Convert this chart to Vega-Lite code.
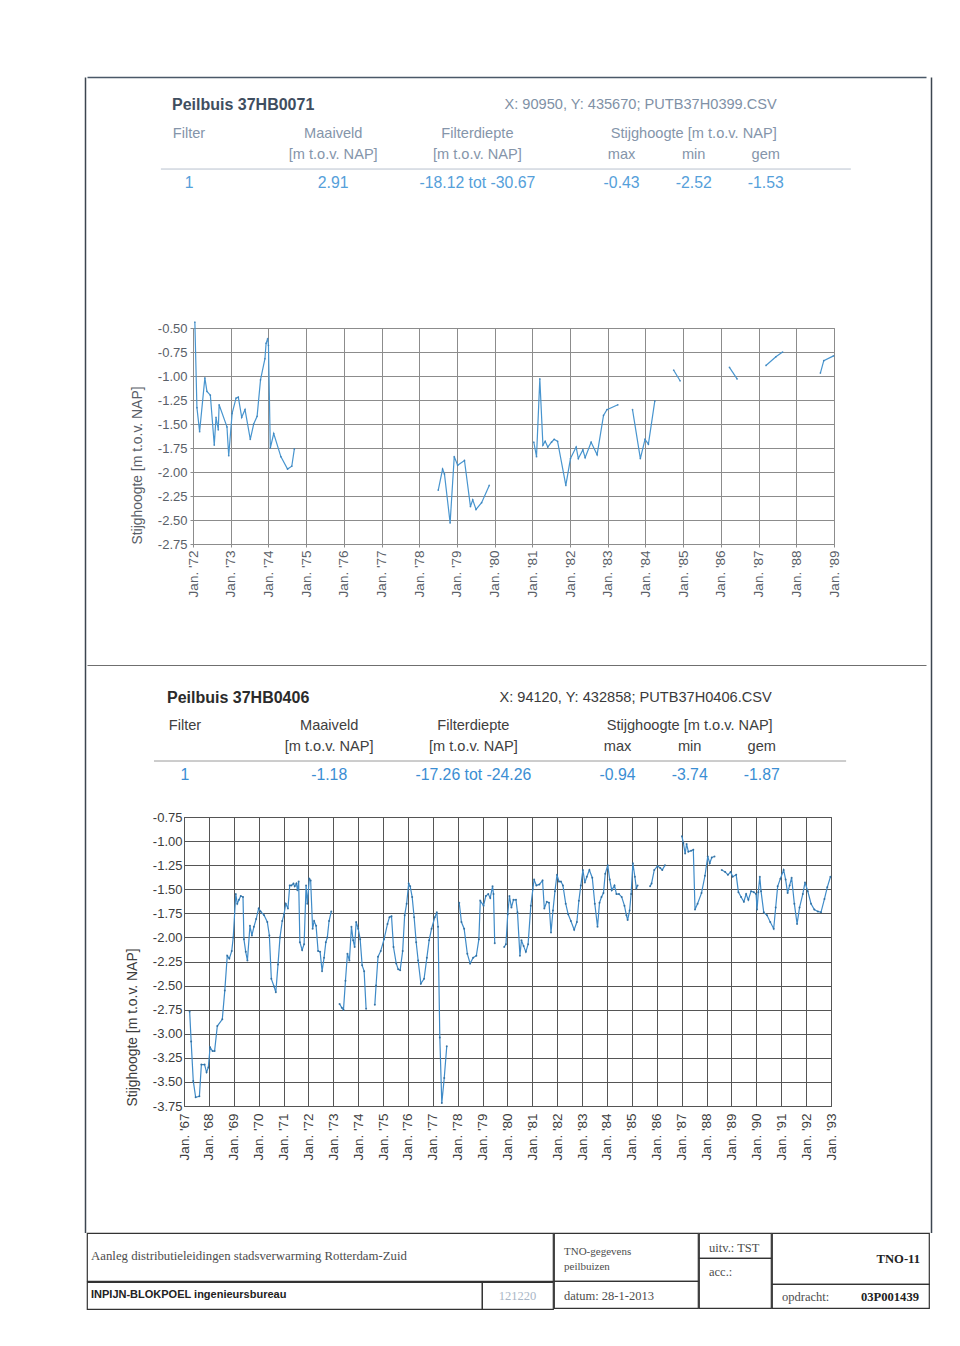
{
  "$schema": "https://vega.github.io/schema/vega-lite/v6.json",
  "background": "white",
  "padding": {"left": 85, "top": 77, "right": 10, "bottom": 10},
  "spacing": 0,
  "datasets": {
    "h1": [
      {"line": 0, "col": 0, "role": "title", "text": "Peilbuis 37HB0071"},
      {"line": 0, "col": 8, "role": "coord", "text": "X: 90950, Y: 435670;  PUTB37H0399.CSV"},
      {"line": 4, "col": 0, "role": "label", "text": "Filter"},
      {"line": 4, "col": 2, "role": "label", "text": "Maaiveld"},
      {"line": 7, "col": 2, "role": "label", "text": "[m t.o.v. NAP]"},
      {"line": 4, "col": 4, "role": "label", "text": "Filterdiepte"},
      {"line": 7, "col": 4, "role": "label", "text": "[m t.o.v. NAP]"},
      {"line": 4, "col": 7, "role": "label", "text": "Stijghoogte [m t.o.v. NAP]"},
      {"line": 7, "col": 6, "role": "label", "text": "max"},
      {"line": 7, "col": 7, "role": "label", "text": "min"},
      {"line": 7, "col": 8, "role": "label", "text": "gem"},
      {"line": 11, "col": 0, "role": "value", "text": "1"},
      {"line": 11, "col": 2, "role": "value", "text": "2.91"},
      {"line": 11, "col": 4, "role": "value", "text": "-18.12 tot -30.67"},
      {"line": 11, "col": 6, "role": "value", "text": "-0.43"},
      {"line": 11, "col": 7, "role": "value", "text": "-2.52"},
      {"line": 11, "col": 8, "role": "value", "text": "-1.53"}
    ],
    "h2": [
      {"line": 0, "col": 0, "role": "title", "text": "Peilbuis 37HB0406"},
      {"line": 0, "col": 8, "role": "coord", "text": "X: 94120, Y: 432858;  PUTB37H0406.CSV"},
      {"line": 4, "col": 0, "role": "label", "text": "Filter"},
      {"line": 4, "col": 2, "role": "label", "text": "Maaiveld"},
      {"line": 7, "col": 2, "role": "label", "text": "[m t.o.v. NAP]"},
      {"line": 4, "col": 4, "role": "label", "text": "Filterdiepte"},
      {"line": 7, "col": 4, "role": "label", "text": "[m t.o.v. NAP]"},
      {"line": 4, "col": 7, "role": "label", "text": "Stijghoogte [m t.o.v. NAP]"},
      {"line": 7, "col": 6, "role": "label", "text": "max"},
      {"line": 7, "col": 7, "role": "label", "text": "min"},
      {"line": 7, "col": 8, "role": "label", "text": "gem"},
      {"line": 11, "col": 0, "role": "value", "text": "1"},
      {"line": 11, "col": 2, "role": "value", "text": "-1.18"},
      {"line": 11, "col": 4, "role": "value", "text": "-17.26 tot -24.26"},
      {"line": 11, "col": 6, "role": "value", "text": "-0.94"},
      {"line": 11, "col": 7, "role": "value", "text": "-3.74"},
      {"line": 11, "col": 8, "role": "value", "text": "-1.87"}
    ],
    "c1": [
      {"s": 1, "d": "1972-01-19", "v": -0.44}, {"s": 1, "d": "1972-02-08", "v": -1.33}, {"s": 1, "d": "1972-03-05", "v": -1.58},
      {"s": 1, "d": "1972-04-25", "v": -1.02}, {"s": 1, "d": "1972-05-15", "v": -1.16}, {"s": 1, "d": "1972-06-17", "v": -1.2},
      {"s": 1, "d": "1972-07-25", "v": -1.72}, {"s": 1, "d": "1972-08-11", "v": -1.43}, {"s": 1, "d": "1972-09-02", "v": -1.56},
      {"s": 1, "d": "1972-09-10", "v": -1.3}, {"s": 1, "d": "1972-11-25", "v": -1.53}, {"s": 1, "d": "1972-12-12", "v": -1.83},
      {"s": 1, "d": "1973-01-14", "v": -1.39}, {"s": 1, "d": "1973-02-21", "v": -1.23}, {"s": 1, "d": "1973-03-15", "v": -1.22},
      {"s": 1, "d": "1973-04-17", "v": -1.43}, {"s": 1, "d": "1973-05-19", "v": -1.35}, {"s": 1, "d": "1973-07-09", "v": -1.66},
      {"s": 1, "d": "1973-08-11", "v": -1.5}, {"s": 1, "d": "1973-09-13", "v": -1.42}, {"s": 1, "d": "1973-10-16", "v": -1.04},
      {"s": 1, "d": "1973-11-28", "v": -0.82}, {"s": 1, "d": "1973-12-09", "v": -0.66}, {"s": 1, "d": "1973-12-24", "v": -0.61},
      {"s": 1, "d": "1974-01-01", "v": -0.68}, {"s": 1, "d": "1974-01-19", "v": -1.75}, {"s": 1, "d": "1974-02-21", "v": -1.6},
      {"s": 1, "d": "1974-05-01", "v": -1.84}, {"s": 1, "d": "1974-07-05", "v": -1.97}, {"s": 1, "d": "1974-08-15", "v": -1.94},
      {"s": 1, "d": "1974-09-09", "v": -1.76},
      {"s": 2, "d": "1978-07-04", "v": -2.19}, {"s": 2, "d": "1978-08-15", "v": -1.97}, {"s": 2, "d": "1978-09-02", "v": -2.02},
      {"s": 2, "d": "1978-10-27", "v": -2.53}, {"s": 2, "d": "1978-12-06", "v": -1.84}, {"s": 2, "d": "1979-01-08", "v": -1.93},
      {"s": 2, "d": "1979-03-15", "v": -1.88}, {"s": 2, "d": "1979-05-12", "v": -2.36}, {"s": 2, "d": "1979-06-03", "v": -2.29},
      {"s": 2, "d": "1979-07-05", "v": -2.39}, {"s": 2, "d": "1979-08-28", "v": -2.32}, {"s": 2, "d": "1979-11-10", "v": -2.14},
      {"s": 3, "d": "1981-01-15", "v": -1.69}, {"s": 3, "d": "1981-02-10", "v": -1.84}, {"s": 3, "d": "1981-03-14", "v": -1.03},
      {"s": 3, "d": "1981-04-13", "v": -1.72}, {"s": 3, "d": "1981-05-05", "v": -1.68}, {"s": 3, "d": "1981-05-30", "v": -1.74},
      {"s": 3, "d": "1981-07-05", "v": -1.69}, {"s": 3, "d": "1981-07-31", "v": -1.66}, {"s": 3, "d": "1981-09-02", "v": -1.68},
      {"s": 3, "d": "1981-11-21", "v": -2.14}, {"s": 3, "d": "1982-01-05", "v": -1.86}, {"s": 3, "d": "1982-03-01", "v": -1.74},
      {"s": 3, "d": "1982-03-22", "v": -1.86}, {"s": 3, "d": "1982-05-05", "v": -1.77}, {"s": 3, "d": "1982-05-27", "v": -1.85},
      {"s": 3, "d": "1982-07-24", "v": -1.69}, {"s": 3, "d": "1982-09-20", "v": -1.82}, {"s": 3, "d": "1982-11-21", "v": -1.41},
      {"s": 3, "d": "1982-12-24", "v": -1.35}, {"s": 3, "d": "1983-04-09", "v": -1.3},
      {"s": 4, "d": "1983-08-29", "v": -1.35}, {"s": 4, "d": "1983-11-13", "v": -1.86}, {"s": 4, "d": "1983-12-28", "v": -1.66},
      {"s": 4, "d": "1984-01-30", "v": -1.71}, {"s": 4, "d": "1984-04-01", "v": -1.26},
      {"s": 5, "d": "1984-10-01", "v": -0.94}, {"s": 5, "d": "1984-12-02", "v": -1.05},
      {"s": 6, "d": "1986-03-25", "v": -0.91}, {"s": 6, "d": "1986-06-07", "v": -1.03},
      {"s": 7, "d": "1987-03-14", "v": -0.89}, {"s": 7, "d": "1987-06-18", "v": -0.8}, {"s": 7, "d": "1987-08-22", "v": -0.75},
      {"s": 8, "d": "1988-08-22", "v": -0.97}, {"s": 8, "d": "1988-09-24", "v": -0.84}, {"s": 8, "d": "1988-12-28", "v": -0.79}
    ],
    "c2": [
      {"s": 1, "d": "1967-03-25", "v": -2.77}, {"s": 1, "d": "1967-04-16", "v": -3.08}, {"s": 1, "d": "1967-05-17", "v": -3.49},
      {"s": 1, "d": "1967-06-21", "v": -3.66}, {"s": 1, "d": "1967-08-15", "v": -3.65}, {"s": 1, "d": "1967-09-13", "v": -3.32},
      {"s": 1, "d": "1967-10-30", "v": -3.32}, {"s": 1, "d": "1967-11-28", "v": -3.4}, {"s": 1, "d": "1967-12-24", "v": -3.35},
      {"s": 1, "d": "1968-01-19", "v": -3.14}, {"s": 1, "d": "1968-02-24", "v": -3.18}, {"s": 1, "d": "1968-03-25", "v": -3.18},
      {"s": 1, "d": "1968-05-04", "v": -2.92}, {"s": 1, "d": "1968-07-16", "v": -2.85}, {"s": 1, "d": "1968-08-22", "v": -2.55},
      {"s": 1, "d": "1968-09-27", "v": -2.19}, {"s": 1, "d": "1968-10-27", "v": -2.22}, {"s": 1, "d": "1968-12-02", "v": -2.14},
      {"s": 1, "d": "1968-12-24", "v": -2.0}, {"s": 1, "d": "1969-01-30", "v": -1.55}, {"s": 1, "d": "1969-02-21", "v": -1.65},
      {"s": 1, "d": "1969-03-18", "v": -1.61}, {"s": 1, "d": "1969-04-13", "v": -1.57}, {"s": 1, "d": "1969-05-16", "v": -1.58},
      {"s": 1, "d": "1969-05-30", "v": -2.02}, {"s": 1, "d": "1969-06-25", "v": -2.15}, {"s": 1, "d": "1969-07-20", "v": -2.24},
      {"s": 1, "d": "1969-08-26", "v": -1.88}, {"s": 1, "d": "1969-09-24", "v": -1.98}, {"s": 1, "d": "1969-10-23", "v": -1.89},
      {"s": 1, "d": "1969-11-25", "v": -1.81}, {"s": 1, "d": "1970-01-01", "v": -1.7}, {"s": 1, "d": "1970-01-30", "v": -1.73},
      {"s": 1, "d": "1970-03-22", "v": -1.77}, {"s": 1, "d": "1970-05-08", "v": -1.84}, {"s": 1, "d": "1970-06-07", "v": -1.98},
      {"s": 1, "d": "1970-07-06", "v": -2.43}, {"s": 1, "d": "1970-08-15", "v": -2.51}, {"s": 1, "d": "1970-09-10", "v": -2.57},
      {"s": 1, "d": "1970-10-12", "v": -2.28}, {"s": 1, "d": "1970-11-10", "v": -2.0}, {"s": 1, "d": "1970-12-13", "v": -1.83},
      {"s": 1, "d": "1971-01-08", "v": -1.76}, {"s": 1, "d": "1971-02-03", "v": -1.65}, {"s": 1, "d": "1971-03-07", "v": -1.7},
      {"s": 1, "d": "1971-04-02", "v": -1.46}, {"s": 1, "d": "1971-04-27", "v": -1.46}, {"s": 1, "d": "1971-05-27", "v": -1.44},
      {"s": 1, "d": "1971-06-14", "v": -1.47}, {"s": 1, "d": "1971-07-09", "v": -1.44}, {"s": 1, "d": "1971-07-24", "v": -1.51},
      {"s": 1, "d": "1971-08-11", "v": -1.42}, {"s": 1, "d": "1971-08-29", "v": -2.05}, {"s": 1, "d": "1971-10-01", "v": -2.13},
      {"s": 1, "d": "1971-10-30", "v": -2.07}, {"s": 1, "d": "1971-11-28", "v": -1.46}, {"s": 1, "d": "1971-12-16", "v": -1.65},
      {"s": 1, "d": "1972-01-15", "v": -1.39}, {"s": 1, "d": "1972-02-03", "v": -1.41}, {"s": 1, "d": "1972-03-03", "v": -1.91},
      {"s": 1, "d": "1972-03-25", "v": -1.83}, {"s": 1, "d": "1972-04-23", "v": -1.88}, {"s": 1, "d": "1972-05-22", "v": -2.14},
      {"s": 1, "d": "1972-06-21", "v": -2.15}, {"s": 1, "d": "1972-07-20", "v": -2.35}, {"s": 1, "d": "1972-08-18", "v": -2.21},
      {"s": 1, "d": "1972-09-13", "v": -2.05}, {"s": 1, "d": "1972-10-05", "v": -2.0}, {"s": 1, "d": "1972-10-30", "v": -1.83},
      {"s": 1, "d": "1972-12-02", "v": -1.73},
      {"s": 2, "d": "1973-04-02", "v": -2.69}, {"s": 2, "d": "1973-05-05", "v": -2.73}, {"s": 2, "d": "1973-05-30", "v": -2.75},
      {"s": 2, "d": "1973-06-28", "v": -2.45}, {"s": 2, "d": "1973-07-27", "v": -2.17}, {"s": 2, "d": "1973-08-25", "v": -2.24},
      {"s": 2, "d": "1973-09-24", "v": -1.89}, {"s": 2, "d": "1973-10-19", "v": -2.03}, {"s": 2, "d": "1973-11-10", "v": -2.1},
      {"s": 2, "d": "1973-12-02", "v": -1.84}, {"s": 2, "d": "1974-01-01", "v": -1.91}, {"s": 2, "d": "1974-01-30", "v": -2.02},
      {"s": 2, "d": "1974-02-28", "v": -2.29}, {"s": 2, "d": "1974-03-29", "v": -2.35}, {"s": 2, "d": "1974-04-27", "v": -2.74},
      {"s": 3, "d": "1974-09-02", "v": -2.7}, {"s": 3, "d": "1974-09-20", "v": -2.5}, {"s": 3, "d": "1974-10-19", "v": -2.2},
      {"s": 3, "d": "1974-11-28", "v": -2.14}, {"s": 3, "d": "1975-01-15", "v": -2.02}, {"s": 3, "d": "1975-03-07", "v": -1.86},
      {"s": 3, "d": "1975-04-05", "v": -1.79}, {"s": 3, "d": "1975-05-05", "v": -1.78}, {"s": 3, "d": "1975-06-03", "v": -2.1},
      {"s": 3, "d": "1975-07-13", "v": -2.27}, {"s": 3, "d": "1975-08-11", "v": -2.33}, {"s": 3, "d": "1975-09-09", "v": -2.34},
      {"s": 3, "d": "1975-10-16", "v": -2.14}, {"s": 3, "d": "1975-11-14", "v": -1.77}, {"s": 3, "d": "1975-12-13", "v": -1.65},
      {"s": 3, "d": "1976-01-12", "v": -1.44}, {"s": 3, "d": "1976-02-03", "v": -1.47}, {"s": 3, "d": "1976-03-03", "v": -1.58},
      {"s": 3, "d": "1976-04-01", "v": -1.79}, {"s": 3, "d": "1976-05-01", "v": -2.05}, {"s": 3, "d": "1976-05-30", "v": -2.24},
      {"s": 3, "d": "1976-07-09", "v": -2.48}, {"s": 3, "d": "1976-08-25", "v": -2.43}, {"s": 3, "d": "1976-10-05", "v": -2.21},
      {"s": 3, "d": "1976-11-07", "v": -2.03}, {"s": 3, "d": "1976-12-13", "v": -1.91}, {"s": 3, "d": "1977-01-30", "v": -1.79},
      {"s": 3, "d": "1977-02-28", "v": -1.74}, {"s": 3, "d": "1977-03-18", "v": -1.89}, {"s": 3, "d": "1977-04-13", "v": -3.04},
      {"s": 3, "d": "1977-05-12", "v": -3.72}, {"s": 3, "d": "1977-06-17", "v": -3.46}, {"s": 3, "d": "1977-07-24", "v": -3.13},
      {"s": 4, "d": "1978-01-23", "v": -1.64}, {"s": 4, "d": "1978-02-24", "v": -1.84}, {"s": 4, "d": "1978-04-05", "v": -1.91},
      {"s": 4, "d": "1978-05-22", "v": -2.17}, {"s": 4, "d": "1978-07-02", "v": -2.27}, {"s": 4, "d": "1978-08-15", "v": -2.21},
      {"s": 4, "d": "1978-10-01", "v": -2.19}, {"s": 4, "d": "1978-11-07", "v": -2.02}, {"s": 4, "d": "1978-11-28", "v": -1.62},
      {"s": 4, "d": "1979-01-15", "v": -1.67}, {"s": 4, "d": "1979-02-17", "v": -1.57}, {"s": 4, "d": "1979-03-25", "v": -1.55},
      {"s": 4, "d": "1979-04-23", "v": -1.59}, {"s": 4, "d": "1979-05-27", "v": -1.47}, {"s": 4, "d": "1979-06-10", "v": -1.55},
      {"s": 4, "d": "1979-06-28", "v": -2.06},
      {"s": 5, "d": "1979-11-14", "v": -2.1}, {"s": 5, "d": "1979-12-10", "v": -2.07}, {"s": 5, "d": "1980-01-05", "v": -1.76},
      {"s": 5, "d": "1980-01-30", "v": -1.57}, {"s": 5, "d": "1980-02-28", "v": -1.69}, {"s": 5, "d": "1980-03-29", "v": -1.61},
      {"s": 5, "d": "1980-05-05", "v": -1.61}, {"s": 5, "d": "1980-05-27", "v": -1.74}, {"s": 5, "d": "1980-07-02", "v": -2.19},
      {"s": 5, "d": "1980-07-24", "v": -2.03}, {"s": 5, "d": "1980-08-25", "v": -2.09}, {"s": 5, "d": "1980-09-27", "v": -2.15},
      {"s": 5, "d": "1980-10-30", "v": -2.07}, {"s": 5, "d": "1980-12-09", "v": -1.67}, {"s": 5, "d": "1981-01-08", "v": -1.5},
      {"s": 5, "d": "1981-01-26", "v": -1.4}, {"s": 5, "d": "1981-02-28", "v": -1.46}, {"s": 5, "d": "1981-04-13", "v": -1.45},
      {"s": 5, "d": "1981-05-30", "v": -1.41}, {"s": 5, "d": "1981-06-25", "v": -1.7}, {"s": 5, "d": "1981-07-31", "v": -1.63},
      {"s": 5, "d": "1981-09-02", "v": -1.64}, {"s": 5, "d": "1981-10-01", "v": -1.95}, {"s": 5, "d": "1981-10-30", "v": -1.72},
      {"s": 5, "d": "1981-11-28", "v": -1.52}, {"s": 5, "d": "1981-12-28", "v": -1.35}, {"s": 5, "d": "1982-01-26", "v": -1.42},
      {"s": 5, "d": "1982-02-24", "v": -1.42}, {"s": 5, "d": "1982-03-25", "v": -1.46}, {"s": 5, "d": "1982-05-05", "v": -1.65},
      {"s": 5, "d": "1982-06-10", "v": -1.76}, {"s": 5, "d": "1982-07-20", "v": -1.83}, {"s": 5, "d": "1982-09-06", "v": -1.92},
      {"s": 5, "d": "1982-10-16", "v": -1.84}, {"s": 5, "d": "1982-11-14", "v": -1.62}, {"s": 5, "d": "1982-12-13", "v": -1.46},
      {"s": 5, "d": "1983-01-12", "v": -1.3}, {"s": 5, "d": "1983-02-10", "v": -1.43}, {"s": 5, "d": "1983-03-11", "v": -1.37},
      {"s": 5, "d": "1983-04-17", "v": -1.3}, {"s": 5, "d": "1983-05-30", "v": -1.38}, {"s": 5, "d": "1983-07-06", "v": -1.65},
      {"s": 5, "d": "1983-08-15", "v": -1.89}, {"s": 5, "d": "1983-09-13", "v": -1.64}, {"s": 5, "d": "1983-10-12", "v": -1.58},
      {"s": 5, "d": "1983-11-10", "v": -1.54}, {"s": 5, "d": "1983-12-06", "v": -1.34}, {"s": 5, "d": "1984-01-12", "v": -1.25},
      {"s": 5, "d": "1984-02-10", "v": -1.4}, {"s": 5, "d": "1984-03-11", "v": -1.51}, {"s": 5, "d": "1984-04-20", "v": -1.46},
      {"s": 5, "d": "1984-05-19", "v": -1.55}, {"s": 5, "d": "1984-06-25", "v": -1.55}, {"s": 5, "d": "1984-08-04", "v": -1.58},
      {"s": 5, "d": "1984-09-13", "v": -1.67}, {"s": 5, "d": "1984-10-12", "v": -1.77}, {"s": 5, "d": "1984-10-30", "v": -1.82},
      {"s": 5, "d": "1984-11-28", "v": -1.72}, {"s": 5, "d": "1984-12-20", "v": -1.55}, {"s": 5, "d": "1985-01-15", "v": -1.23},
      {"s": 5, "d": "1985-02-13", "v": -1.37}, {"s": 5, "d": "1985-03-07", "v": -1.49}, {"s": 5, "d": "1985-03-25", "v": -1.46},
      {"s": 6, "d": "1985-09-24", "v": -1.47}, {"s": 6, "d": "1985-10-16", "v": -1.44}, {"s": 6, "d": "1985-11-25", "v": -1.3},
      {"s": 6, "d": "1986-01-12", "v": -1.26}, {"s": 6, "d": "1986-02-21", "v": -1.28}, {"s": 6, "d": "1986-03-22", "v": -1.3},
      {"s": 6, "d": "1986-05-01", "v": -1.25},
      {"s": 7, "d": "1987-01-05", "v": -0.95}, {"s": 7, "d": "1987-01-26", "v": -1.02}, {"s": 7, "d": "1987-02-21", "v": -1.13},
      {"s": 7, "d": "1987-03-14", "v": -1.03}, {"s": 7, "d": "1987-04-09", "v": -1.11}, {"s": 7, "d": "1987-05-19", "v": -1.1},
      {"s": 7, "d": "1987-06-21", "v": -1.09}, {"s": 7, "d": "1987-07-16", "v": -1.71}, {"s": 7, "d": "1987-08-22", "v": -1.65},
      {"s": 7, "d": "1987-10-19", "v": -1.54}, {"s": 7, "d": "1987-12-09", "v": -1.36}, {"s": 7, "d": "1988-01-19", "v": -1.16},
      {"s": 7, "d": "1988-02-17", "v": -1.23}, {"s": 7, "d": "1988-03-18", "v": -1.17}, {"s": 7, "d": "1988-04-27", "v": -1.16},
      {"s": 8, "d": "1988-08-11", "v": -1.3}, {"s": 8, "d": "1988-10-01", "v": -1.32}, {"s": 8, "d": "1988-11-10", "v": -1.35},
      {"s": 8, "d": "1988-12-20", "v": -1.32}, {"s": 8, "d": "1989-01-19", "v": -1.37}, {"s": 8, "d": "1989-03-11", "v": -1.35},
      {"s": 8, "d": "1989-04-13", "v": -1.53}, {"s": 8, "d": "1989-05-22", "v": -1.58}, {"s": 8, "d": "1989-07-02", "v": -1.63},
      {"s": 8, "d": "1989-08-04", "v": -1.55}, {"s": 8, "d": "1989-09-06", "v": -1.61}, {"s": 8, "d": "1989-10-16", "v": -1.52},
      {"s": 8, "d": "1989-11-25", "v": -1.53}, {"s": 8, "d": "1989-12-28", "v": -1.55}, {"s": 8, "d": "1990-01-12", "v": -1.71},
      {"s": 8, "d": "1990-01-30", "v": -1.53}, {"s": 8, "d": "1990-02-21", "v": -1.37}, {"s": 8, "d": "1990-03-11", "v": -1.52},
      {"s": 8, "d": "1990-04-20", "v": -1.74}, {"s": 8, "d": "1990-06-07", "v": -1.77}, {"s": 8, "d": "1990-07-24", "v": -1.84},
      {"s": 8, "d": "1990-09-13", "v": -1.91}, {"s": 8, "d": "1990-10-12", "v": -1.69}, {"s": 8, "d": "1990-11-10", "v": -1.47},
      {"s": 8, "d": "1990-12-20", "v": -1.39}, {"s": 8, "d": "1991-02-06", "v": -1.3}, {"s": 8, "d": "1991-03-07", "v": -1.4},
      {"s": 8, "d": "1991-04-05", "v": -1.54}, {"s": 8, "d": "1991-05-05", "v": -1.46}, {"s": 8, "d": "1991-06-03", "v": -1.38},
      {"s": 8, "d": "1991-07-13", "v": -1.65}, {"s": 8, "d": "1991-08-22", "v": -1.86}, {"s": 8, "d": "1991-09-27", "v": -1.69},
      {"s": 8, "d": "1991-11-14", "v": -1.55}, {"s": 8, "d": "1991-12-16", "v": -1.43}, {"s": 8, "d": "1992-01-26", "v": -1.52},
      {"s": 8, "d": "1992-03-14", "v": -1.65}, {"s": 8, "d": "1992-05-01", "v": -1.71}, {"s": 8, "d": "1992-06-21", "v": -1.73},
      {"s": 8, "d": "1992-08-07", "v": -1.74}, {"s": 8, "d": "1992-09-27", "v": -1.6}, {"s": 8, "d": "1992-11-07", "v": -1.48},
      {"s": 8, "d": "1992-12-24", "v": -1.37}
    ]
  },
  "hconcat": [
    {
      "width": 1, "height": 1155.5, "view": {"stroke": null},
      "data": {"values": []},
      "mark": "text",
      "encoding": {"y": {"field": "v", "type": "quantitative", "scale": {"domain": [0, 1]},
        "axis": {"orient": "left", "title": null, "labels": false, "ticks": false, "grid": false, "domain": true, "domainColor": "#3c4650", "domainWidth": 1.5}}}
    },
    {
      "spacing": 0,
      "vconcat": [
        {
          "width": 839, "height": 242, "view": {"stroke": null, "fill": "white"},
          "data": {"name": "h1"},
          "encoding": {
            "x": {"field": "col", "type": "quantitative", "scale": {"domain": [-1.415, 10.222], "nice": false, "zero": false},
              "axis": {"orient": "top", "title": null, "labels": false, "ticks": false, "grid": false, "domain": true, "domainColor": "#4a5868", "domainWidth": 1.5}},
            "y": {"field": "line", "type": "quantitative", "scale": {"domain": [-3.98, 30.15], "reverse": true, "nice": false, "zero": false}, "axis": null}
          },
          "layer": [
            {"transform": [{"filter": "datum.role === 'title'"}], "mark": {"type": "rule", "color": "#b8c2ce", "strokeWidth": 1},
              "encoding": {
                "x": {"datum": -0.39, "type": "quantitative", "axis": {"orient": "top", "title": null, "labels": false, "ticks": false, "grid": false, "domain": true, "domainColor": "#4a5868", "domainWidth": 1.5}},
                "x2": {"datum": 9.18}, "y": {"datum": 9, "type": "quantitative", "axis": null}}},
            {"transform": [{"filter": "datum.role === 'title'"}], "mark": {"type": "text", "align": "left", "dx": -17, "fontSize": 16, "fontWeight": "bold", "color": "#3f4e60"}, "encoding": {"text": {"field": "text"}}},
            {"transform": [{"filter": "datum.role === 'coord'"}], "mark": {"type": "text", "align": "right", "dx": 11, "fontSize": 14.6, "color": "#7f91a6"}, "encoding": {"text": {"field": "text"}}},
            {"transform": [{"filter": "datum.role === 'label'"}], "mark": {"type": "text", "align": "center", "fontSize": 14.6, "color": "#8595aa"}, "encoding": {"text": {"field": "text"}}},
            {"transform": [{"filter": "datum.role === 'value'"}], "mark": {"type": "text", "align": "center", "fontSize": 15.8, "color": "#55a0da"}, "encoding": {"text": {"field": "text"}}}
          ]
        },
        {
          "spacing": 0, "bounds": "flush",
          "hconcat": [
            {"width": 106, "height": 336.5, "view": {"stroke": null, "fill": "white"}, "data": {"values": []}, "mark": "text"},
            {
              "width": 641, "height": 216, "view": {"stroke": "#8c8c8c"},
              "data": {"name": "c1"},
              "encoding": {
                "x": {"field": "d", "type": "temporal",
                  "scale": {"domain": [{"year": 1972, "month": 1, "date": 1}, {"year": 1989, "month": 1, "date": 1}], "nice": false},
                  "axis": {"title": null, "format": "%b. '%y", "tickCount": {"interval": "year", "step": 1}, "labelAngle": -90,
                    "labelFontSize": 13.5, "labelColor": "#5a6068", "labelPadding": 3, "ticks": true, "tickSize": 3, "tickColor": "#8c8c8c",
                    "grid": true, "gridColor": "#8c8c8c", "gridOpacity": 1, "domain": false, "labelOverlap": false, "labelFlush": false, "labelBound": false}},
                "y": {"field": "v", "type": "quantitative", "scale": {"domain": [-2.75, -0.5], "nice": false, "zero": false},
                  "axis": {"title": "Stijghoogte [m t.o.v. NAP]", "values": [-2.75, -2.5, -2.25, -2, -1.75, -1.5, -1.25, -1, -0.75, -0.5],
                    "format": ".2f", "labelExpr": "replace(datum.label, '−', '-')", "labelFontSize": 13, "labelColor": "#5a6068",
                    "labelPadding": 3, "tickSize": 3, "tickColor": "#8c8c8c", "grid": true, "gridColor": "#8c8c8c", "gridOpacity": 1,
                    "domain": false, "titleFontSize": 13.9, "titleFontWeight": "normal", "titleColor": "#5a6068", "titleAnchor": "start",
                    "titlePadding": 13, "labelFlush": false, "labelOverlap": false}},
                "detail": {"field": "s", "type": "nominal"}
              },
              "layer": [
                {"mark": {"type": "line", "color": "#4895cf", "strokeWidth": 1.2}},
                {"mark": {"type": "point", "filled": true, "size": 3, "color": "#3a80b8", "opacity": 0.8}}
              ]
            }
          ]
        },
        {
          "width": 839, "height": 144.75, "view": {"stroke": null, "fill": "white"},
          "data": {"name": "h2"},
          "encoding": {
            "x": {"field": "col", "type": "quantitative", "scale": {"domain": [-1.359, 10.278], "nice": false, "zero": false},
              "axis": {"orient": "top", "title": null, "labels": false, "ticks": false, "grid": false, "domain": true, "domainColor": "#6f6f6f", "domainWidth": 1}},
            "y": {"field": "line", "type": "quantitative", "scale": {"domain": [-4.714, 15.964], "reverse": true, "nice": false, "zero": false}, "axis": null}
          },
          "layer": [
            {"transform": [{"filter": "datum.role === 'title'"}], "mark": {"type": "rule", "color": "#9a9a9a", "strokeWidth": 1},
              "encoding": {
                "x": {"datum": -0.43, "type": "quantitative", "axis": {"orient": "top", "title": null, "labels": false, "ticks": false, "grid": false, "domain": true, "domainColor": "#6f6f6f", "domainWidth": 1}},
                "x2": {"datum": 9.17}, "y": {"datum": 9, "type": "quantitative", "axis": null}}},
            {"transform": [{"filter": "datum.role === 'title'"}], "mark": {"type": "text", "align": "left", "dx": -18, "fontSize": 16, "fontWeight": "bold", "color": "#2b2b2b"}, "encoding": {"text": {"field": "text"}}},
            {"transform": [{"filter": "datum.role === 'coord'"}], "mark": {"type": "text", "align": "right", "dx": 10, "fontSize": 14.6, "color": "#3a3a3a"}, "encoding": {"text": {"field": "text"}}},
            {"transform": [{"filter": "datum.role === 'label'"}], "mark": {"type": "text", "align": "center", "fontSize": 14.6, "color": "#404040"}, "encoding": {"text": {"field": "text"}}},
            {"transform": [{"filter": "datum.role === 'value'"}], "mark": {"type": "text", "align": "center", "fontSize": 15.8, "color": "#3b8ed3"}, "encoding": {"text": {"field": "text"}}}
          ]
        },
        {
          "spacing": 0, "bounds": "flush",
          "hconcat": [
            {"width": 97, "height": 414.5, "view": {"stroke": null, "fill": "white"}, "data": {"values": []}, "mark": "text"},
            {
              "width": 647, "height": 289, "view": {"stroke": "#4a4a4a"},
              "data": {"name": "c2"},
              "encoding": {
                "x": {"field": "d", "type": "temporal",
                  "scale": {"domain": [{"year": 1967, "month": 1, "date": 1}, {"year": 1993, "month": 1, "date": 1}], "nice": false},
                  "axis": {"title": null, "format": "%b. '%y", "tickCount": {"interval": "year", "step": 1}, "labelAngle": -90,
                    "labelFontSize": 13.5, "labelColor": "#3c3c3c", "labelPadding": 7, "ticks": false,
                    "grid": true, "gridColor": "#555555", "gridOpacity": 1, "domain": false, "labelOverlap": false, "labelFlush": false, "labelBound": false}},
                "y": {"field": "v", "type": "quantitative", "scale": {"domain": [-3.75, -0.75], "nice": false, "zero": false},
                  "axis": {"title": "Stijghoogte [m t.o.v. NAP]", "values": [-3.75, -3.5, -3.25, -3, -2.75, -2.5, -2.25, -2, -1.75, -1.5, -1.25, -1, -0.75],
                    "format": ".2f", "labelExpr": "replace(datum.label, '−', '-')", "labelFontSize": 13, "labelColor": "#3c3c3c",
                    "labelPadding": 2, "ticks": false, "grid": true, "gridColor": "#555555", "gridOpacity": 1,
                    "domain": false, "titleFontSize": 13.9, "titleFontWeight": "normal", "titleColor": "#3c3c3c", "titleAnchor": "start",
                    "titlePadding": 13, "labelFlush": false, "labelOverlap": false}},
                "detail": {"field": "s", "type": "nominal"}
              },
              "layer": [
                {"mark": {"type": "line", "color": "#3f8bc8", "strokeWidth": 1.2}},
                {"mark": {"type": "point", "filled": true, "size": 4, "color": "#2d6a9a", "opacity": 0.85}}
              ]
            }
          ]
        },
        {
          "spacing": -1.2,
          "hconcat": [
            {
              "spacing": -1.2,
              "vconcat": [
                {"width": 466, "height": 48, "view": {"stroke": "#333333", "strokeWidth": 1.2},
                  "data": {"values": [{"t": "Aanleg distributieleidingen stadsverwarming Rotterdam-Zuid"}]},
                  "mark": {"type": "text", "align": "left", "baseline": "middle", "dx": 4, "dy": -1, "font": "Liberation Serif", "fontSize": 12.8, "color": "#4d4d4d"},
                  "encoding": {"x": {"datum": 0, "type": "quantitative", "scale": {"domain": [0, 1]}, "axis": null}, "text": {"field": "t"}}},
                {
                  "spacing": 0, "bounds": "flush",
                  "hconcat": [
                    {"width": 395, "height": 27, "view": {"stroke": "#333333", "strokeWidth": 1.2},
                      "data": {"values": [{"t": "INPIJN-BLOKPOEL ingenieursbureau"}]},
                      "mark": {"type": "text", "align": "left", "baseline": "middle", "dx": 4, "dy": -1, "fontSize": 11, "fontWeight": "bold", "color": "#222222"},
                      "encoding": {"x": {"datum": 0, "type": "quantitative", "scale": {"domain": [0, 1]}, "axis": null}, "text": {"field": "t"}}},
                    {"width": 71, "height": 27, "view": {"stroke": "#333333", "strokeWidth": 1.2},
                      "data": {"values": [{"t": "121220"}]},
                      "mark": {"type": "text", "align": "center", "baseline": "middle", "fontSize": 12.5, "font": "Liberation Serif", "color": "#a9b6c6"},
                      "encoding": {"text": {"field": "t"}}}
                  ]
                }
              ]
            },
            {
              "spacing": 0, "bounds": "flush",
              "vconcat": [
                {"width": 144, "height": 48, "view": {"stroke": "#333333", "strokeWidth": 1.2},
                  "data": {"values": [{"t": "TNO-gegevens\npeilbuizen"}]},
                  "mark": {"type": "text", "align": "left", "baseline": "middle", "lineBreak": "\n", "lineHeight": 15, "dx": 10, "dy": -5.5, "font": "Liberation Serif", "fontSize": 11, "color": "#4d4d4d"},
                  "encoding": {"x": {"datum": 0, "type": "quantitative", "scale": {"domain": [0, 1]}, "axis": null}, "text": {"field": "t"}}},
                {"width": 144, "height": 27, "view": {"stroke": "#333333", "strokeWidth": 1.2},
                  "data": {"values": [{"t": "datum:  28-1-2013"}]},
                  "mark": {"type": "text", "align": "left", "baseline": "middle", "dx": 10, "dy": 1, "font": "Liberation Serif", "fontSize": 12.5, "color": "#4d4d4d"},
                  "encoding": {"x": {"datum": 0, "type": "quantitative", "scale": {"domain": [0, 1]}, "axis": null}, "text": {"field": "t"}}}
              ]
            },
            {
              "spacing": 0, "bounds": "flush",
              "vconcat": [
                {"width": 72, "height": 25, "view": {"stroke": "#333333", "strokeWidth": 1.2},
                  "data": {"values": [{"t": "uitv.: TST"}]},
                  "mark": {"type": "text", "align": "left", "baseline": "middle", "dx": 10, "dy": 2, "font": "Liberation Serif", "fontSize": 12.5, "color": "#4d4d4d"},
                  "encoding": {"x": {"datum": 0, "type": "quantitative", "scale": {"domain": [0, 1]}, "axis": null}, "text": {"field": "t"}}},
                {"width": 72, "height": 50, "view": {"stroke": "#333333", "strokeWidth": 1.2},
                  "data": {"values": [{"t": "acc.:"}]},
                  "mark": {"type": "text", "align": "left", "baseline": "middle", "dx": 10, "dy": -11, "font": "Liberation Serif", "fontSize": 12.5, "color": "#4d4d4d"},
                  "encoding": {"x": {"datum": 0, "type": "quantitative", "scale": {"domain": [0, 1]}, "axis": null}, "text": {"field": "t"}}}
              ]
            },
            {
              "spacing": 0, "bounds": "flush",
              "vconcat": [
                {"width": 157, "height": 51, "view": {"stroke": "#333333", "strokeWidth": 1.2},
                  "data": {"values": [{"t": "TNO-11"}]},
                  "mark": {"type": "text", "align": "right", "baseline": "middle", "dx": -9, "dy": 0, "font": "Liberation Serif", "fontSize": 12.6, "fontWeight": "bold", "color": "#222222"},
                  "encoding": {"x": {"datum": 1, "type": "quantitative", "scale": {"domain": [0, 1]}, "axis": null}, "text": {"field": "t"}}},
                {"width": 157, "height": 24, "view": {"stroke": "#333333", "strokeWidth": 1.2},
                  "layer": [
                    {"data": {"values": [{"t": "opdracht:"}]},
                      "mark": {"type": "text", "align": "left", "baseline": "middle", "dx": 10, "dy": 1, "font": "Liberation Serif", "fontSize": 12.5, "color": "#4d4d4d"},
                      "encoding": {"x": {"datum": 0, "type": "quantitative", "scale": {"domain": [0, 1]}, "axis": null}, "text": {"field": "t"}}},
                    {"data": {"values": [{"t": "03P001439"}]},
                      "mark": {"type": "text", "align": "right", "baseline": "middle", "dx": -10, "dy": 1, "font": "Liberation Serif", "fontSize": 12.6, "fontWeight": "bold", "color": "#222222"},
                      "encoding": {"x": {"datum": 1, "type": "quantitative", "scale": {"domain": [0, 1]}, "axis": null}, "text": {"field": "t"}}}
                  ]
                }
              ]
            }
          ]
        }
      ]
    },
    {
      "width": 1, "height": 1155.5, "view": {"stroke": null},
      "data": {"values": []},
      "mark": "text",
      "encoding": {"y": {"field": "v", "type": "quantitative", "scale": {"domain": [0, 1]},
        "axis": {"orient": "right", "title": null, "labels": false, "ticks": false, "grid": false, "domain": true, "domainColor": "#3c4650", "domainWidth": 1.5}}}
    }
  ],
  "config": {
    "font": "Liberation Sans",
    "view": {"stroke": null},
    "axis": {"labelFont": "Liberation Sans", "titleFont": "Liberation Sans"},
    "text": {"font": "Liberation Sans"}
  }
}
